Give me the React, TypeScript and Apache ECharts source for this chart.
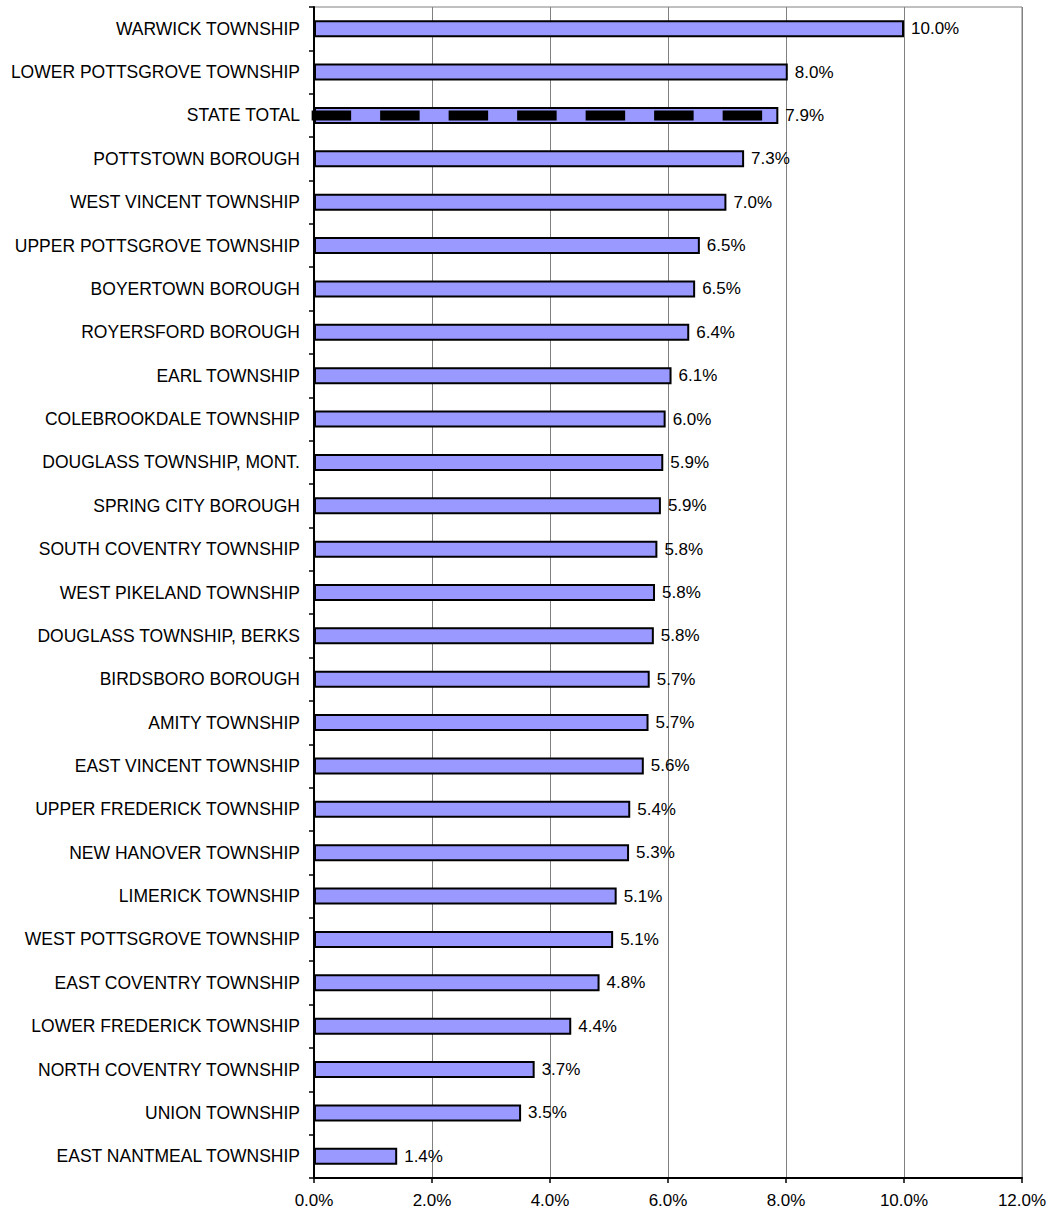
import React, { useEffect, useRef } from "react";
import * as echarts from "echarts";

const categories = [
  "WARWICK TOWNSHIP",
  "LOWER POTTSGROVE TOWNSHIP",
  "STATE TOTAL",
  "POTTSTOWN BOROUGH",
  "WEST VINCENT TOWNSHIP",
  "UPPER POTTSGROVE TOWNSHIP",
  "BOYERTOWN BOROUGH",
  "ROYERSFORD BOROUGH",
  "EARL TOWNSHIP",
  "COLEBROOKDALE TOWNSHIP",
  "DOUGLASS TOWNSHIP, MONT.",
  "SPRING CITY BOROUGH",
  "SOUTH COVENTRY TOWNSHIP",
  "WEST PIKELAND TOWNSHIP",
  "DOUGLASS TOWNSHIP, BERKS",
  "BIRDSBORO BOROUGH",
  "AMITY TOWNSHIP",
  "EAST VINCENT TOWNSHIP",
  "UPPER FREDERICK TOWNSHIP",
  "NEW HANOVER TOWNSHIP",
  "LIMERICK TOWNSHIP",
  "WEST POTTSGROVE TOWNSHIP",
  "EAST COVENTRY TOWNSHIP",
  "LOWER FREDERICK TOWNSHIP",
  "NORTH COVENTRY TOWNSHIP",
  "UNION TOWNSHIP",
  "EAST NANTMEAL TOWNSHIP",
];

const values = [
  10.0, 8.03, 7.87, 7.29, 6.99, 6.54, 6.46, 6.36, 6.06, 5.96, 5.92, 5.88, 5.82,
  5.78, 5.76, 5.69, 5.67, 5.59, 5.36, 5.34, 5.13, 5.07, 4.84, 4.36, 3.74, 3.51,
  1.41,
];

const stateTotalName = "STATE TOTAL";
const xMin = 0;
const xMax = 12;
const xInterval = 2;

const FONT = 'Arial, "Liberation Sans", sans-serif';

export default function App() {
  const ref = useRef<HTMLDivElement>(null);

  useEffect(() => {
    if (!ref.current) return;
    const chart = echarts.init(ref.current, undefined, { renderer: "svg" });
    const stIdx = categories.indexOf(stateTotalName);
    const stVal = values[stIdx];
    chart.setOption({
      animation: false,
      backgroundColor: "#ffffff",
      textStyle: { fontFamily: FONT },
      grid: {
        left: 314,
        right: 30,
        top: 7,
        bottom: 35,
        show: true,
        borderColor: "#808080",
        borderWidth: 1,
      },
      xAxis: {
        type: "value",
        min: xMin,
        max: xMax,
        interval: xInterval,
        axisLine: { show: true, lineStyle: { color: "#000", width: 2 } },
        axisTick: { show: true, length: 5, lineStyle: { color: "#000", width: 1.5 } },
        axisLabel: {
          color: "#000",
          fontSize: 17,
          fontFamily: FONT,
          margin: 14,
          formatter: (v: number) => v.toFixed(1) + "%",
        },
        splitLine: { show: true, lineStyle: { color: "#808080", width: 1 } },
      },
      yAxis: {
        type: "category",
        data: categories,
        inverse: true,
        axisLine: { show: true, lineStyle: { color: "#000", width: 2 } },
        axisTick: { show: true, length: 5, lineStyle: { color: "#000", width: 1.5 } },
        axisLabel: {
          color: "#000",
          fontSize: 17.5,
          fontFamily: FONT,
          margin: 14,
        },
        splitLine: { show: false },
      },
      series: [
        {
          type: "bar",
          data: values,
          barWidth: 17,
          itemStyle: { color: "#9999FF", borderColor: "#000", borderWidth: 2 },
          label: {
            show: true,
            position: "right",
            distance: 7,
            color: "#000",
            fontSize: 17,
            fontFamily: FONT,
            formatter: (p: any) => (p.value as number).toFixed(1) + "%",
          },
          z: 2,
        },
        {
          type: "line",
          data: [
            [-0.04, stIdx],
            [stVal, stIdx],
          ],
          symbol: "none",
          clip: false,
          silent: true,
          lineStyle: { color: "#000", width: 10, type: [39.5, 29], cap: "butt" },
          z: 3,
        },
      ],
    });
    return () => chart.dispose();
  }, []);

  return (
    <div
      ref={ref}
      style={{ position: "absolute", left: 0, top: 0, width: 1052, height: 1213 }}
    />
  );
}
